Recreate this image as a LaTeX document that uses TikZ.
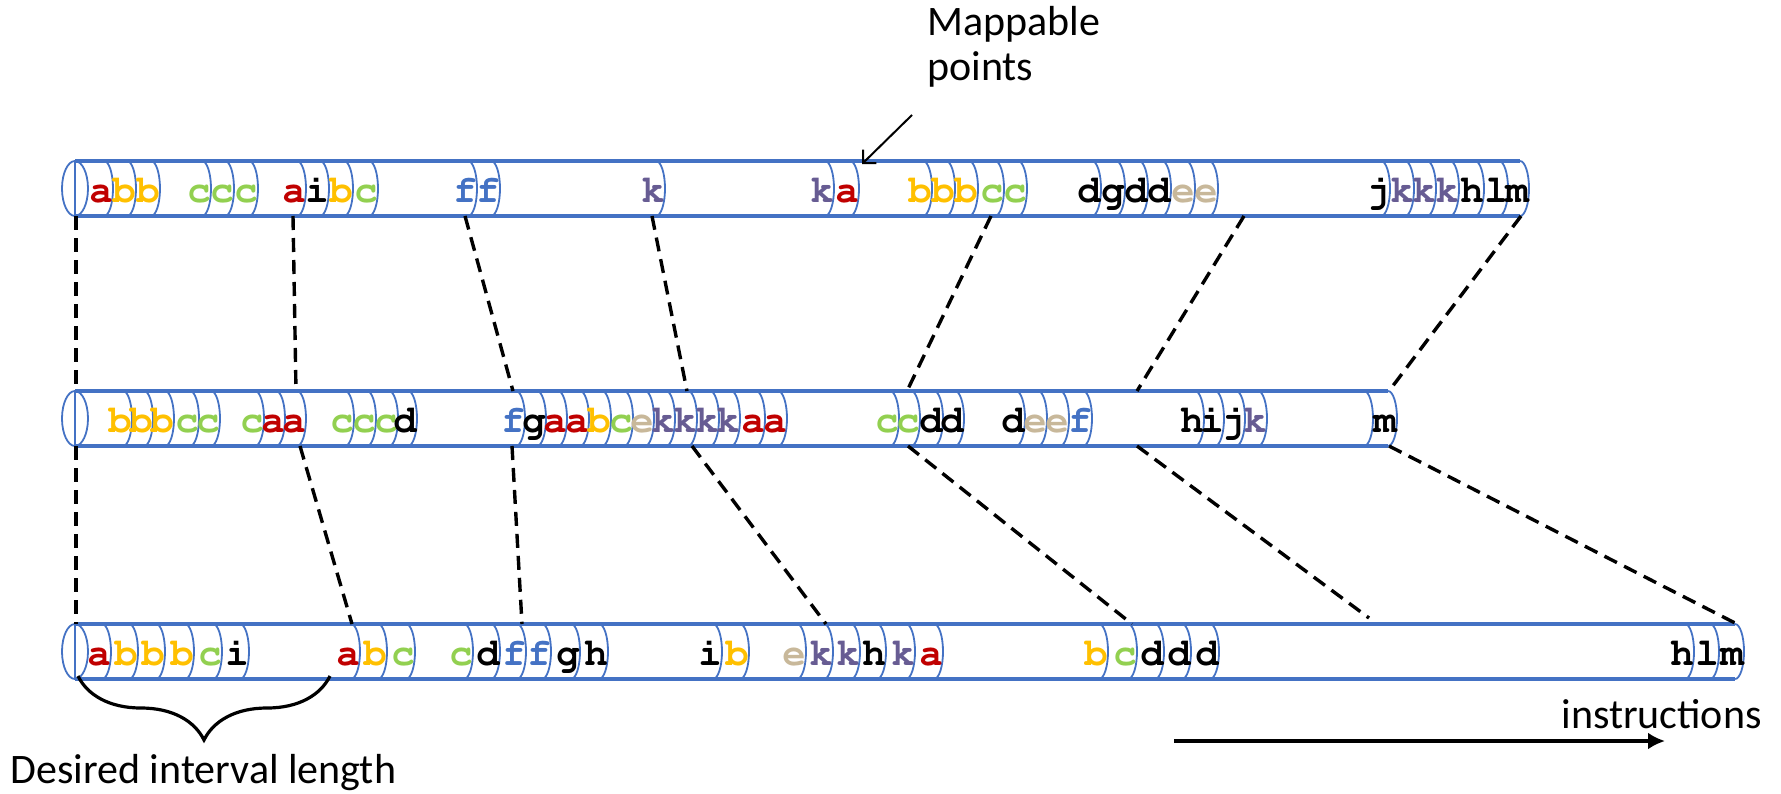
\documentclass[tikz,border=0pt]{standalone}
\usepackage{fontspec}
\setmainfont{Carlito}
\usepackage{tikz}
\definecolor{cylblue}{HTML}{4472C4}
\definecolor{cred}{HTML}{C00000}
\definecolor{cyellow}{HTML}{FFC000}
\definecolor{cgreen}{HTML}{92D050}
\definecolor{cblue}{HTML}{4472C4}
\definecolor{cpurple}{HTML}{675C93}
\definecolor{ctan}{HTML}{C8B89A}
\newcommand{\slot}[5]% name, x, row centre, colour, letter
{\draw[slotarc] (#2+3,#3+27.5) arc (90:-90:4.5pt and 13.75pt);
 \node[letter,text=#4] (#1) at (#2,#3-14) {#5};
}
\usetikzlibrary{arrows.meta}
\usetikzlibrary{decorations.pathreplacing}

\begin{document}
\begin{tikzpicture}[x=0.5pt,y=0.5pt,
	cyl/.style={cylblue,line width=1.8pt},
	slotarc/.style={cylblue,line width=0.9pt},
	letter/.style={anchor=base,inner sep=0pt,font=\fontsize{19.5pt}{19.5pt}\usefont{OT1}{pcr}{b}{n}},
	txt/.style={inner sep=0pt,font=\fontsize{21pt}{22.5pt}\selectfont},
	link/.style={line width=1.7pt,dash pattern=on 7pt off 4pt}]
	\useasboundingbox (0,0) rectangle (1781,-793);

	% top trace
	\draw[cyl] (75,-161) -- (1520,-161);
	\draw[cyl] (75,-216) -- (1520,-216);
	\draw[slotarc] (75,-188.5) ellipse (6.5pt and 13.75pt);
	\draw[slotarc] (75,-161) -- (75,-216);
	\slot{t1}{101}{-188.5}{cred}{a}
	\slot{t2}{124}{-188.5}{cyellow}{b}
	\slot{t3}{148}{-188.5}{cyellow}{b}
	\slot{t4}{199}{-188.5}{cgreen}{c}
	\slot{t5}{222}{-188.5}{cgreen}{c}
	\slot{t6}{246}{-188.5}{cgreen}{c}
	\slot{t7}{294}{-188.5}{cred}{a}
	\slot{t8}{317}{-188.5}{black}{i}
	\slot{t9}{341}{-188.5}{cyellow}{b}
	\slot{t10}{366}{-188.5}{cgreen}{c}
	\slot{t11}{465}{-188.5}{cblue}{f}
	\slot{t12}{488}{-188.5}{cblue}{f}
	\slot{t13}{653}{-188.5}{cpurple}{k}
	\slot{t14}{822}{-188.5}{cpurple}{k}
	\slot{t15}{847}{-188.5}{cred}{a}
	\slot{t16}{920}{-188.5}{cyellow}{b}
	\slot{t17}{943}{-188.5}{cyellow}{b}
	\slot{t18}{966}{-188.5}{cyellow}{b}
	\slot{t19}{992}{-188.5}{cgreen}{c}
	\slot{t20}{1015}{-188.5}{cgreen}{c}
	\slot{t21}{1089}{-188.5}{black}{d}
	\slot{t22}{1113}{-188.5}{black}{g}
	\slot{t23}{1136}{-188.5}{black}{d}
	\slot{t24}{1159}{-188.5}{black}{d}
	\slot{t25}{1183}{-188.5}{ctan}{e}
	\slot{t26}{1206}{-188.5}{ctan}{e}
	\slot{t27}{1378}{-188.5}{black}{j}
	\slot{t28}{1402}{-188.5}{cpurple}{k}
	\slot{t29}{1424}{-188.5}{cpurple}{k}
	\slot{t30}{1447}{-188.5}{cpurple}{k}
	\slot{t31}{1472}{-188.5}{black}{h}
	\slot{t32}{1496}{-188.5}{black}{l}
	\slot{t33}{1517}{-188.5}{black}{m}

	% middle trace
	\draw[cyl] (75,-391) -- (1388,-391);
	\draw[cyl] (75,-446) -- (1388,-446);
	\draw[slotarc] (75,-418.5) ellipse (6.5pt and 13.75pt);
	\draw[slotarc] (75,-391) -- (75,-446);
	\slot{m1}{120}{-418.5}{cyellow}{b}
	\slot{m2}{141}{-418.5}{cyellow}{b}
	\slot{m3}{162}{-418.5}{cyellow}{b}
	\slot{m4}{187}{-418.5}{cgreen}{c}
	\slot{m5}{208}{-418.5}{cgreen}{c}
	\slot{m6}{252}{-418.5}{cgreen}{c}
	\slot{m7}{273}{-418.5}{cred}{a}
	\slot{m8}{294}{-418.5}{cred}{a}
	\slot{m9}{342}{-418.5}{cgreen}{c}
	\slot{m10}{364}{-418.5}{cgreen}{c}
	\slot{m11}{386}{-418.5}{cgreen}{c}
	\slot{m12}{405}{-418.5}{black}{d}
	\slot{m13}{513}{-418.5}{cblue}{f}
	\slot{m14}{534}{-418.5}{black}{g}
	\slot{m15}{555}{-418.5}{cred}{a}
	\slot{m16}{577}{-418.5}{cred}{a}
	\slot{m17}{599}{-418.5}{cyellow}{b}
	\slot{m18}{621}{-418.5}{cgreen}{c}
	\slot{m19}{642}{-418.5}{ctan}{e}
	\slot{m20}{663}{-418.5}{cpurple}{k}
	\slot{m21}{685}{-418.5}{cpurple}{k}
	\slot{m22}{707}{-418.5}{cpurple}{k}
	\slot{m23}{728}{-418.5}{cpurple}{k}
	\slot{m24}{753}{-418.5}{cred}{a}
	\slot{m25}{775}{-418.5}{cred}{a}
	\slot{m26}{887}{-418.5}{cgreen}{c}
	\slot{m27}{908}{-418.5}{cgreen}{c}
	\slot{m28}{931}{-418.5}{black}{d}
	\slot{m29}{952}{-418.5}{black}{d}
	\slot{m30}{1013}{-418.5}{black}{d}
	\slot{m31}{1035}{-418.5}{ctan}{e}
	\slot{m32}{1057}{-418.5}{ctan}{e}
	\slot{m33}{1080}{-418.5}{cblue}{f}
	\slot{m34}{1192}{-418.5}{black}{h}
	\slot{m35}{1212}{-418.5}{black}{i}
	\slot{m36}{1233}{-418.5}{black}{j}
	\slot{m37}{1255}{-418.5}{cpurple}{k}
	\draw[slotarc] (1364,-391) arc (90:-90:4.5pt and 13.75pt);
	\slot{m38}{1385}{-418.5}{black}{m}

	% bottom trace
	\draw[cyl] (75,-624) -- (1735,-624);
	\draw[cyl] (75,-679) -- (1735,-679);
	\draw[slotarc] (75,-651.5) ellipse (6.5pt and 13.75pt);
	\draw[slotarc] (75,-624) -- (75,-679);
	\slot{b1}{99}{-651.5}{cred}{a}
	\slot{b2}{126}{-651.5}{cyellow}{b}
	\slot{b3}{153}{-651.5}{cyellow}{b}
	\slot{b4}{182}{-651.5}{cyellow}{b}
	\slot{b5}{210}{-651.5}{cgreen}{c}
	\slot{b6}{237}{-651.5}{black}{i}
	\slot{b7}{348}{-651.5}{cred}{a}
	\slot{b8}{375}{-651.5}{cyellow}{b}
	\slot{b9}{403}{-651.5}{cgreen}{c}
	\slot{b10}{461}{-651.5}{cgreen}{c}
	\slot{b11}{488}{-651.5}{black}{d}
	\slot{b12}{514}{-651.5}{cblue}{f}
	\slot{b13}{539}{-651.5}{cblue}{f}
	\slot{b14}{568}{-651.5}{black}{g}
	\slot{b15}{596}{-651.5}{black}{h}
	\slot{b16}{710}{-651.5}{black}{i}
	\slot{b17}{737}{-651.5}{cyellow}{b}
	\slot{b18}{794}{-651.5}{ctan}{e}
	\slot{b19}{821}{-651.5}{cpurple}{k}
	\slot{b20}{848}{-651.5}{cpurple}{k}
	\slot{b21}{874}{-651.5}{black}{h}
	\slot{b22}{903}{-651.5}{cpurple}{k}
	\slot{b23}{931}{-651.5}{cred}{a}
	\slot{b24}{1096}{-651.5}{cyellow}{b}
	\slot{b25}{1125}{-651.5}{cgreen}{c}
	\slot{b26}{1152}{-651.5}{black}{d}
	\slot{b27}{1179}{-651.5}{black}{d}
	\slot{b28}{1207}{-651.5}{black}{d}
	\slot{b29}{1682}{-651.5}{black}{h}
	\slot{b30}{1707}{-651.5}{black}{l}
	\slot{b31}{1732}{-651.5}{black}{m}

	% mapping between traces
	\coordinate (p1) at (76,-216);   \coordinate (q1) at (76,-391);
	\coordinate (p2) at (293,-216);  \coordinate (q2) at (296,-391);
	\coordinate (p3) at (465,-216);  \coordinate (q3) at (513,-391);
	\coordinate (p4) at (652,-216);  \coordinate (q4) at (687,-391);
	\coordinate (p5) at (991,-216);  \coordinate (q5) at (907,-391);
	\coordinate (p6) at (1244,-216); \coordinate (q6) at (1137,-391);
	\coordinate (p7) at (1521,-216); \coordinate (q7) at (1389,-391);
	\coordinate (r1) at (76,-446);   \coordinate (s1) at (76,-624);
	\coordinate (r2) at (300,-446);  \coordinate (s2) at (352,-624);
	\coordinate (r3) at (512,-446);  \coordinate (s3) at (522,-624);
	\coordinate (r4) at (692,-446);  \coordinate (s4) at (826,-624);
	\coordinate (r5) at (908,-446);  \coordinate (s5) at (1132,-624);
	\coordinate (r6) at (1137,-446); \coordinate (s6) at (1369,-618);
	\coordinate (r7) at (1389,-446); \coordinate (s7) at (1737,-624);
	\draw[link] (p1) -- (q1);
	\draw[link] (p2) -- (q2);
	\draw[link] (p3) -- (q3);
	\draw[link] (p4) -- (q4);
	\draw[link] (p5) -- (q5);
	\draw[link] (p6) -- (q6);
	\draw[link] (p7) -- (q7);
	\draw[link] (r1) -- (s1);
	\draw[link] (r2) -- (s2);
	\draw[link] (r3) -- (s3);
	\draw[link] (r4) -- (s4);
	\draw[link] (r5) -- (s5);
	\draw[link] (r6) -- (s6);
	\draw[link] (r7) -- (s7);

	% labels
	\node[txt,anchor=north west,align=left] (mappable) at (927,-6) {Mappable\\points};
	\coordinate (mapfrom) at (912,-115);
	\coordinate (mapto) at (862,-164);
	\draw[line width=1pt,-{Straight Barb[length=4.7pt,width=9.4pt]}] (mapfrom) -- (mapto);

	\coordinate (bracel) at (78,-676);
	\coordinate (bracer) at (330,-676);
	\draw[line width=1.6pt,decorate,decoration={brace,mirror,amplitude=32pt,aspect=0.5}] (bracel) -- (bracer);
	\node[txt,anchor=base west] (interval) at (10,-783) {Desired interval length};

	\coordinate (instfrom) at (1174,-741);
	\coordinate (instto) at (1665,-741);
	\draw[line width=1.8pt,-{Latex[length=8.5pt,width=8.5pt]}] (instfrom) -- (instto);
	\node[txt,anchor=base west] (instr) at (1561,-728) {instructions};
\end{tikzpicture}
\end{document}
